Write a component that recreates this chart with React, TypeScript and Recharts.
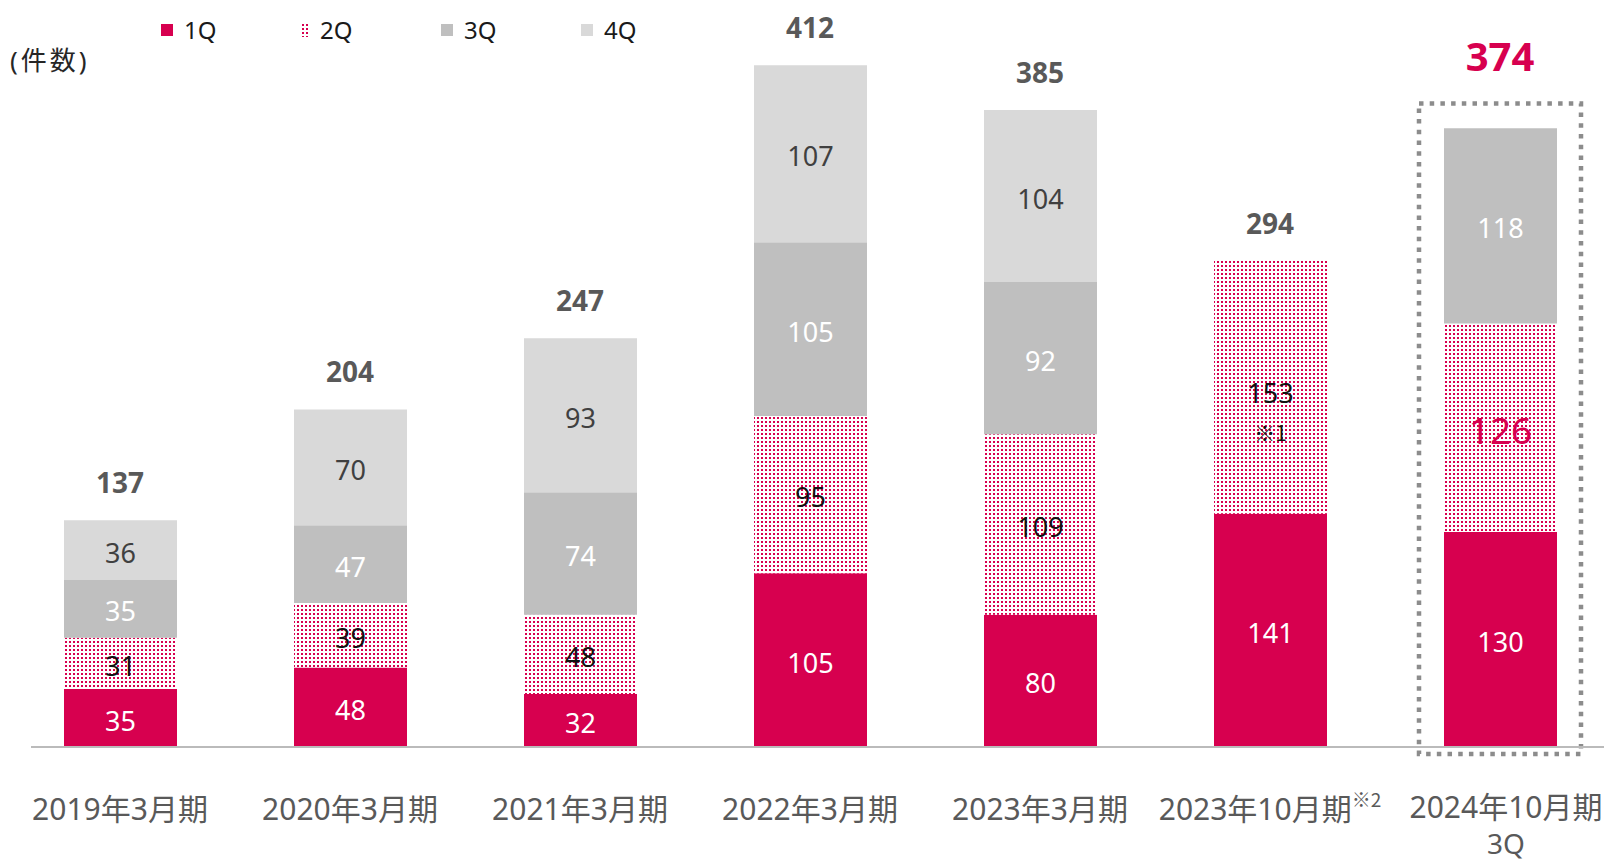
import { ComposedChart, Bar, Line, XAxis, YAxis, Legend, LabelList, ReferenceArea } from 'recharts';

const categories = ['2019年3月期', '2020年3月期', '2021年3月期', '2022年3月期', '2023年3月期', '2023年10月期', '2024年10月期'];
const q1 = [35, 48, 32, 105, 80, 141, 130];
const q2 = [31, 39, 48, 95, 109, 153, 126];
const q3 = [35, 47, 74, 105, 92, null, 118];
const q4 = [36, 70, 93, 107, 104, null, null];
const totals = [137, 204, 247, 412, 385, 294, 374];
const legendNames = ['1Q', '2Q', '3Q', '4Q'];

const RED = '#D7004F';
const GREY3 = '#BFBFBF';
const GREY4 = '#D9D9D9';
const TEXT = '#595959';
const HIGHLIGHT = 6;
const CJK = "'Noto Sans CJK JP', sans-serif";

const data = categories.map((name, i) => ({
  name,
  q1: q1[i],
  q2: q2[i],
  q3: q3[i],
  q4: q4[i],
  total: totals[i],
}));

const CategoryTick = (props: any) => {
  const { x, y, payload, index } = props;
  const label: string = payload.value;
  const ty = y + 53;
  if (index === 5) {
    return (
      <text x={x} y={ty} textAnchor="middle" dominantBaseline="central" fill={TEXT} fontSize={30}>
        {label}
        <tspan fontSize={19} dy={-10} fontFamily={CJK}>※2</tspan>
      </text>
    );
  }
  if (index === 6) {
    return (
      <g>
        <text x={x + 6} y={ty - 2} textAnchor="middle" dominantBaseline="central" fill={TEXT} fontSize={30}>{label}</text>
        <text x={x + 6} y={ty + 35} textAnchor="middle" dominantBaseline="central" fill={TEXT} fontSize={28}>3Q</text>
      </g>
    );
  }
  return (
    <text x={x} y={ty} textAnchor="middle" dominantBaseline="central" fill={TEXT} fontSize={30}>{label}</text>
  );
};

const segLabel = (color: string) => (props: any) => {
  const { x, y, width, height, value, index } = props;
  if (value === null || value === undefined) return null;
  const cx = x + width / 2;
  const cy = y + height / 2;
  if (index === 5 && color === '#111') {
    return (
      <g>
        <text x={cx} y={cy + 5} textAnchor="middle" dominantBaseline="central" fill={color} fontSize={27}>{value}</text>
        <text x={cx} y={cy + 45} textAnchor="middle" dominantBaseline="central" fill={color} fontSize={21} fontFamily={CJK}>※1</text>
      </g>
    );
  }
  if (index === HIGHLIGHT && color === '#111') {
    return (
      <text x={cx} y={cy + 2} textAnchor="middle" dominantBaseline="central" fill={RED} fontSize={37}>{value}</text>
    );
  }
  return (
    <text x={cx} y={cy + 2} textAnchor="middle" dominantBaseline="central" fill={color} fontSize={27}>{value}</text>
  );
};

const TotalLabel = (props: any) => {
  const { x, y, value, index } = props;
  if (index === HIGHLIGHT) {
    return (
      <text x={x} y={y - 73} textAnchor="middle" dominantBaseline="central" fill={RED} fontSize={40} fontWeight="bold">{value}</text>
    );
  }
  return (
    <text x={x} y={y - 38} textAnchor="middle" dominantBaseline="central" fill={TEXT} fontSize={28} fontWeight="bold">{value}</text>
  );
};

const HighlightBox = (props: any) => {
  const { x, y, width, height } = props;
  const cx = x + width / 2;
  return (
    <rect x={cx - 81} y={y} width={162} height={height + 7} fill="none"
      stroke="#8C8C8C" strokeWidth={4.5} strokeDasharray="4.5 6.2" />
  );
};

const LegendContent = () => {
  const markers = [
    <svg width={12} height={12}><rect width={12} height={12} fill={RED} /></svg>,
    <svg width={8} height={14}><rect width={8} height={14} fill="url(#dots2q)" /></svg>,
    <svg width={12} height={12}><rect width={12} height={12} fill={GREY3} /></svg>,
    <svg width={12} height={12}><rect width={12} height={12} fill={GREY4} /></svg>,
  ];
  return (
    <div style={{ position: 'relative', width: 700, height: 80 }}>
      {legendNames.map((n, i) => (
        <div key={n} style={{ position: 'absolute', left: 161 + i * 140, top: 14, display: 'flex', alignItems: 'center', gap: 11, fontSize: 24, color: '#1a1a1a', lineHeight: '32px' }}>
          {markers[i]}
          <span>{n}</span>
        </div>
      ))}
      <div style={{ position: 'absolute', left: 10, top: 43, fontSize: 26, letterSpacing: 3, color: '#262626', lineHeight: '34px', whiteSpace: 'nowrap' }}>(件数)</div>
    </div>
  );
};

export default function App() {
  return (
    <div style={{ position: 'absolute', left: 0, top: 0, width: 1612, height: 862, background: '#fff', overflow: 'hidden', fontFamily: "'Noto Sans', 'Noto Sans CJK JP', sans-serif" }}>
      <ComposedChart width={1612} height={862} data={data} margin={{ top: 19, right: 8, left: 31, bottom: 15 }} barSize={113}>
        <defs>
          <pattern id="dots2q" width={4} height={4} patternUnits="userSpaceOnUse">
            <rect width={4} height={4} fill="#fff" />
            <rect x={1} y={1} width={2} height={2} fill={RED} />
          </pattern>
        </defs>
        <XAxis dataKey="name" height={100} padding={{ left: -26, right: -11 }} axisLine={{ stroke: '#BBBBBB', strokeWidth: 2 }} tickLine={false} tick={<CategoryTick />} interval={0} />
        <YAxis hide domain={[0, 440]} />
        <Legend layout="horizontal" verticalAlign="middle" align="center" wrapperStyle={{ top: 0, left: 0, width: 700, height: 80 }} content={<LegendContent />} />
        <ReferenceArea x1={categories[HIGHLIGHT]} x2={categories[HIGHLIGHT]} y1={0} y2={totals[HIGHLIGHT] + 15} shape={<HighlightBox />} ifOverflow="visible" />
        <Bar dataKey="q1" stackId="a" fill={RED} isAnimationActive={false}>
          <LabelList dataKey="q1" content={segLabel('#ffffff')} />
        </Bar>
        <Bar dataKey="q2" stackId="a" fill="url(#dots2q)" isAnimationActive={false}>
          <LabelList dataKey="q2" content={segLabel('#111')} />
        </Bar>
        <Bar dataKey="q3" stackId="a" fill={GREY3} isAnimationActive={false}>
          <LabelList dataKey="q3" content={segLabel('#ffffff')} />
        </Bar>
        <Bar dataKey="q4" stackId="a" fill={GREY4} isAnimationActive={false}>
          <LabelList dataKey="q4" content={segLabel('#404040')} />
        </Bar>
        <Line dataKey="total" stroke="none" dot={false} activeDot={false} legendType="none" isAnimationActive={false}>
          <LabelList dataKey="total" content={<TotalLabel />} />
        </Line>
      </ComposedChart>
    </div>
  );
}
